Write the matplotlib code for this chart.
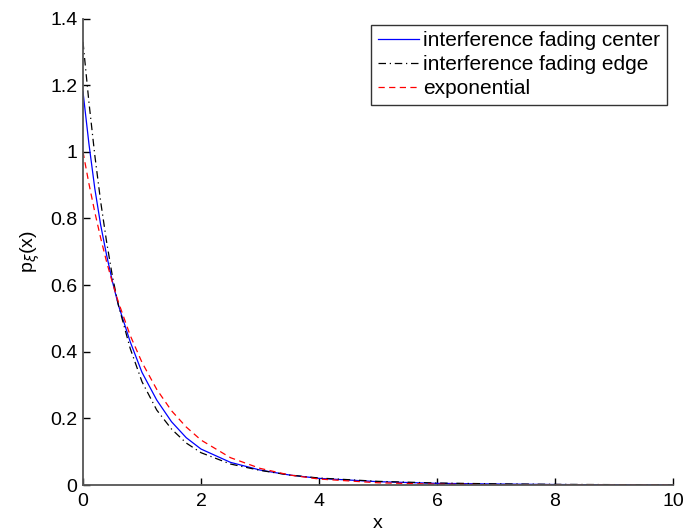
import numpy as np
from matplotlib import pyplot as plt

plt.rcParams['font.family'] = ['Liberation Sans', 'DejaVu Sans']

# sample points
x = [0, 0.1, 0.2, 0.3, 0.4, 0.5, 0.6, 0.8, 1.0, 1.25, 1.5, 1.75, 2.0,
     2.5, 3.0, 3.5, 4.0, 5.0, 6.0, 7.0, 8.0, 9.0, 10.0]
center = [1.18, 1.025, 0.89, 0.78, 0.69, 0.61, 0.54, 0.43, 0.338, 0.255, 0.19, 0.142, 0.108,
          0.068, 0.045, 0.030, 0.020, 0.010, 0.005, 0.003, 0.0015, 0.0008, 0.0004]
edge = [1.33, 1.15, 0.99, 0.85, 0.73, 0.625, 0.54, 0.41, 0.31, 0.225, 0.168, 0.126, 0.097,
        0.063, 0.044, 0.030, 0.021, 0.011, 0.006, 0.0035, 0.002, 0.0012, 0.0008]
expo = [1.0, 0.905, 0.819, 0.741, 0.670, 0.607, 0.549, 0.449, 0.368, 0.287, 0.223, 0.174, 0.135,
        0.082, 0.050, 0.030, 0.018, 0.0067, 0.0025, 0.0009, 0.0003, 0.0001, 0.00005]

labels = ['interference fading center', 'interference fading edge', 'exponential']

fig = plt.figure(figsize=(6.87, 5.31), dpi=100)
ax = fig.add_axes([0.1208, 0.0866, 0.8588, 0.8785])

ax.plot(x, center, color='#0000ff', lw=0.9, label=labels[0])
ax.plot(x, edge, color='black', lw=0.9, linestyle=(0, (6, 3, 1, 3)), label=labels[1])
ax.plot(x, expo, color='#ff0000', lw=0.9, linestyle=(0, (5, 3.5)), label=labels[2])

ax.set_xlim(0, 10)
ax.set_ylim(0, 1.4)
ax.set_xticks(np.arange(0, 11, 2))
ax.set_yticks(np.arange(0, 1.41, 0.2))
ax.set_yticklabels(['0', '0.2', '0.4', '0.6', '0.8', '1', '1.2', '1.4'])
ax.tick_params(direction='in', length=5, width=1, labelsize=14)
ax.tick_params(axis='x', pad=6)
ax.tick_params(axis='y', pad=4)

for s in ['top', 'right']:
    ax.spines[s].set_visible(False)
for s in ['left', 'bottom']:
    ax.spines[s].set_color('#555555')
    ax.spines[s].set_linewidth(1.3)

ax.set_xlabel('x', fontsize=14, labelpad=3)
ax.set_ylabel(r'p$_\xi$(x)', fontsize=14, labelpad=6)

leg = ax.legend(loc='upper right', fontsize=15, frameon=True, fancybox=False,
                handlelength=2.0, handletextpad=0.2, borderpad=0.3,
                labelspacing=0.25, borderaxespad=0.3, bbox_to_anchor=(1.0, 1.0))
leg.get_frame().set_edgecolor('black')
leg.get_frame().set_linewidth(1.0)

fig.savefig('out.png', dpi=100)
